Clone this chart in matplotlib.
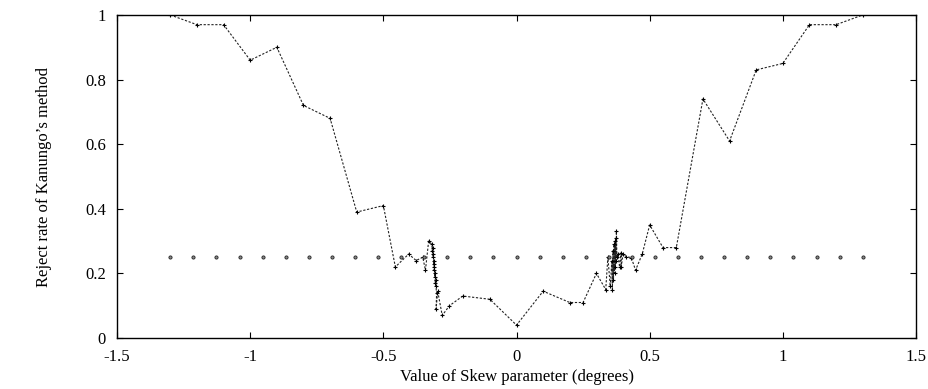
import matplotlib
matplotlib.use("Agg")
from matplotlib import pyplot as plt
import numpy as np

plt.rcParams['font.family'] = ['Liberation Serif', 'DejaVu Serif']

# skew values (degrees) and reject rate of Kanungo's method
skew = [-1.3, -1.2, -1.1, -1.0, -0.9, -0.8, -0.7, -0.6, -0.5, -0.455, -0.405,
        -0.377, -0.352, -0.342, -0.330, -0.318, -0.316, -0.315, -0.313, -0.312,
        -0.311, -0.310, -0.309, -0.308, -0.307, -0.306, -0.305, -0.304, -0.303,
        -0.300, -0.302, -0.296, -0.279, -0.252, -0.202, -0.1, 0.0, 0.1, 0.2,
        0.25, 0.3, 0.335, 0.343, 0.352, 0.358, 0.360, 0.362, 0.364, 0.366,
        0.368, 0.370, 0.371, 0.372, 0.374, 0.375, 0.377, 0.381, 0.387, 0.393,
        0.393, 0.40, 0.412, 0.431, 0.447, 0.472, 0.5, 0.55, 0.6, 0.7, 0.8, 0.9,
        1.0, 1.1, 1.2, 1.3]
reject = [1.0, 0.97, 0.97, 0.86, 0.9, 0.72, 0.68, 0.39, 0.41, 0.22, 0.26,
          0.24, 0.25, 0.21, 0.30, 0.29, 0.27, 0.28, 0.25, 0.26,
          0.23, 0.24, 0.21, 0.22, 0.19, 0.20, 0.17, 0.18, 0.16,
          0.14, 0.09, 0.145, 0.07, 0.10, 0.13, 0.12, 0.04, 0.145, 0.11,
          0.11, 0.20, 0.15, 0.25, 0.16, 0.24, 0.15, 0.27, 0.18, 0.29,
          0.20, 0.30, 0.22, 0.31, 0.24, 0.33, 0.25, 0.26, 0.22, 0.264,
          0.22, 0.26, 0.252, 0.249, 0.21, 0.26, 0.35, 0.28, 0.28, 0.74, 0.61, 0.83,
          0.85, 0.97, 0.97, 1.0]

# reference level
ref_x = np.linspace(-1.3, 1.3, 31)
ref_y = [0.25] * len(ref_x)

fig = plt.figure(figsize=(9.29, 3.89), dpi=100)
ax = fig.add_axes([0.126, 0.131, 0.86, 0.8305])

ax.plot(skew, reject, color='#222222', linestyle=(0, (2, 1.5)), linewidth=0.8,
        marker='+', markersize=3, markeredgewidth=0.8, markeredgecolor='black')
ax.plot(ref_x, ref_y, linestyle='none', marker='o', markersize=2.3,
        markerfacecolor='#888888', markeredgecolor='#222222', markeredgewidth=0.6)

ax.set_xlim(-1.5, 1.5)
ax.set_ylim(0, 1)
ax.set_xticks([-1.5, -1, -0.5, 0, 0.5, 1, 1.5])
ax.set_xticklabels(['-1.5', '-1', '-0.5', '0', '0.5', '1', '1.5'])
ax.set_yticks([0, 0.2, 0.4, 0.6, 0.8, 1])
ax.set_yticklabels(['0', '0.2', '0.4', '0.6', '0.8', '1'])
ax.tick_params(direction='in', top=True, right=True, length=4, width=0.8,
               labelsize=12, pad=8)
for s in ax.spines.values():
    s.set_linewidth(1.0)

ax.set_xlabel('Value of Skew parameter (degrees)', fontsize=12, labelpad=3)
ax.set_ylabel('Reject rate of Kanungo\u2019s method', fontsize=12, labelpad=24)

fig.savefig('out.png', dpi=100)
